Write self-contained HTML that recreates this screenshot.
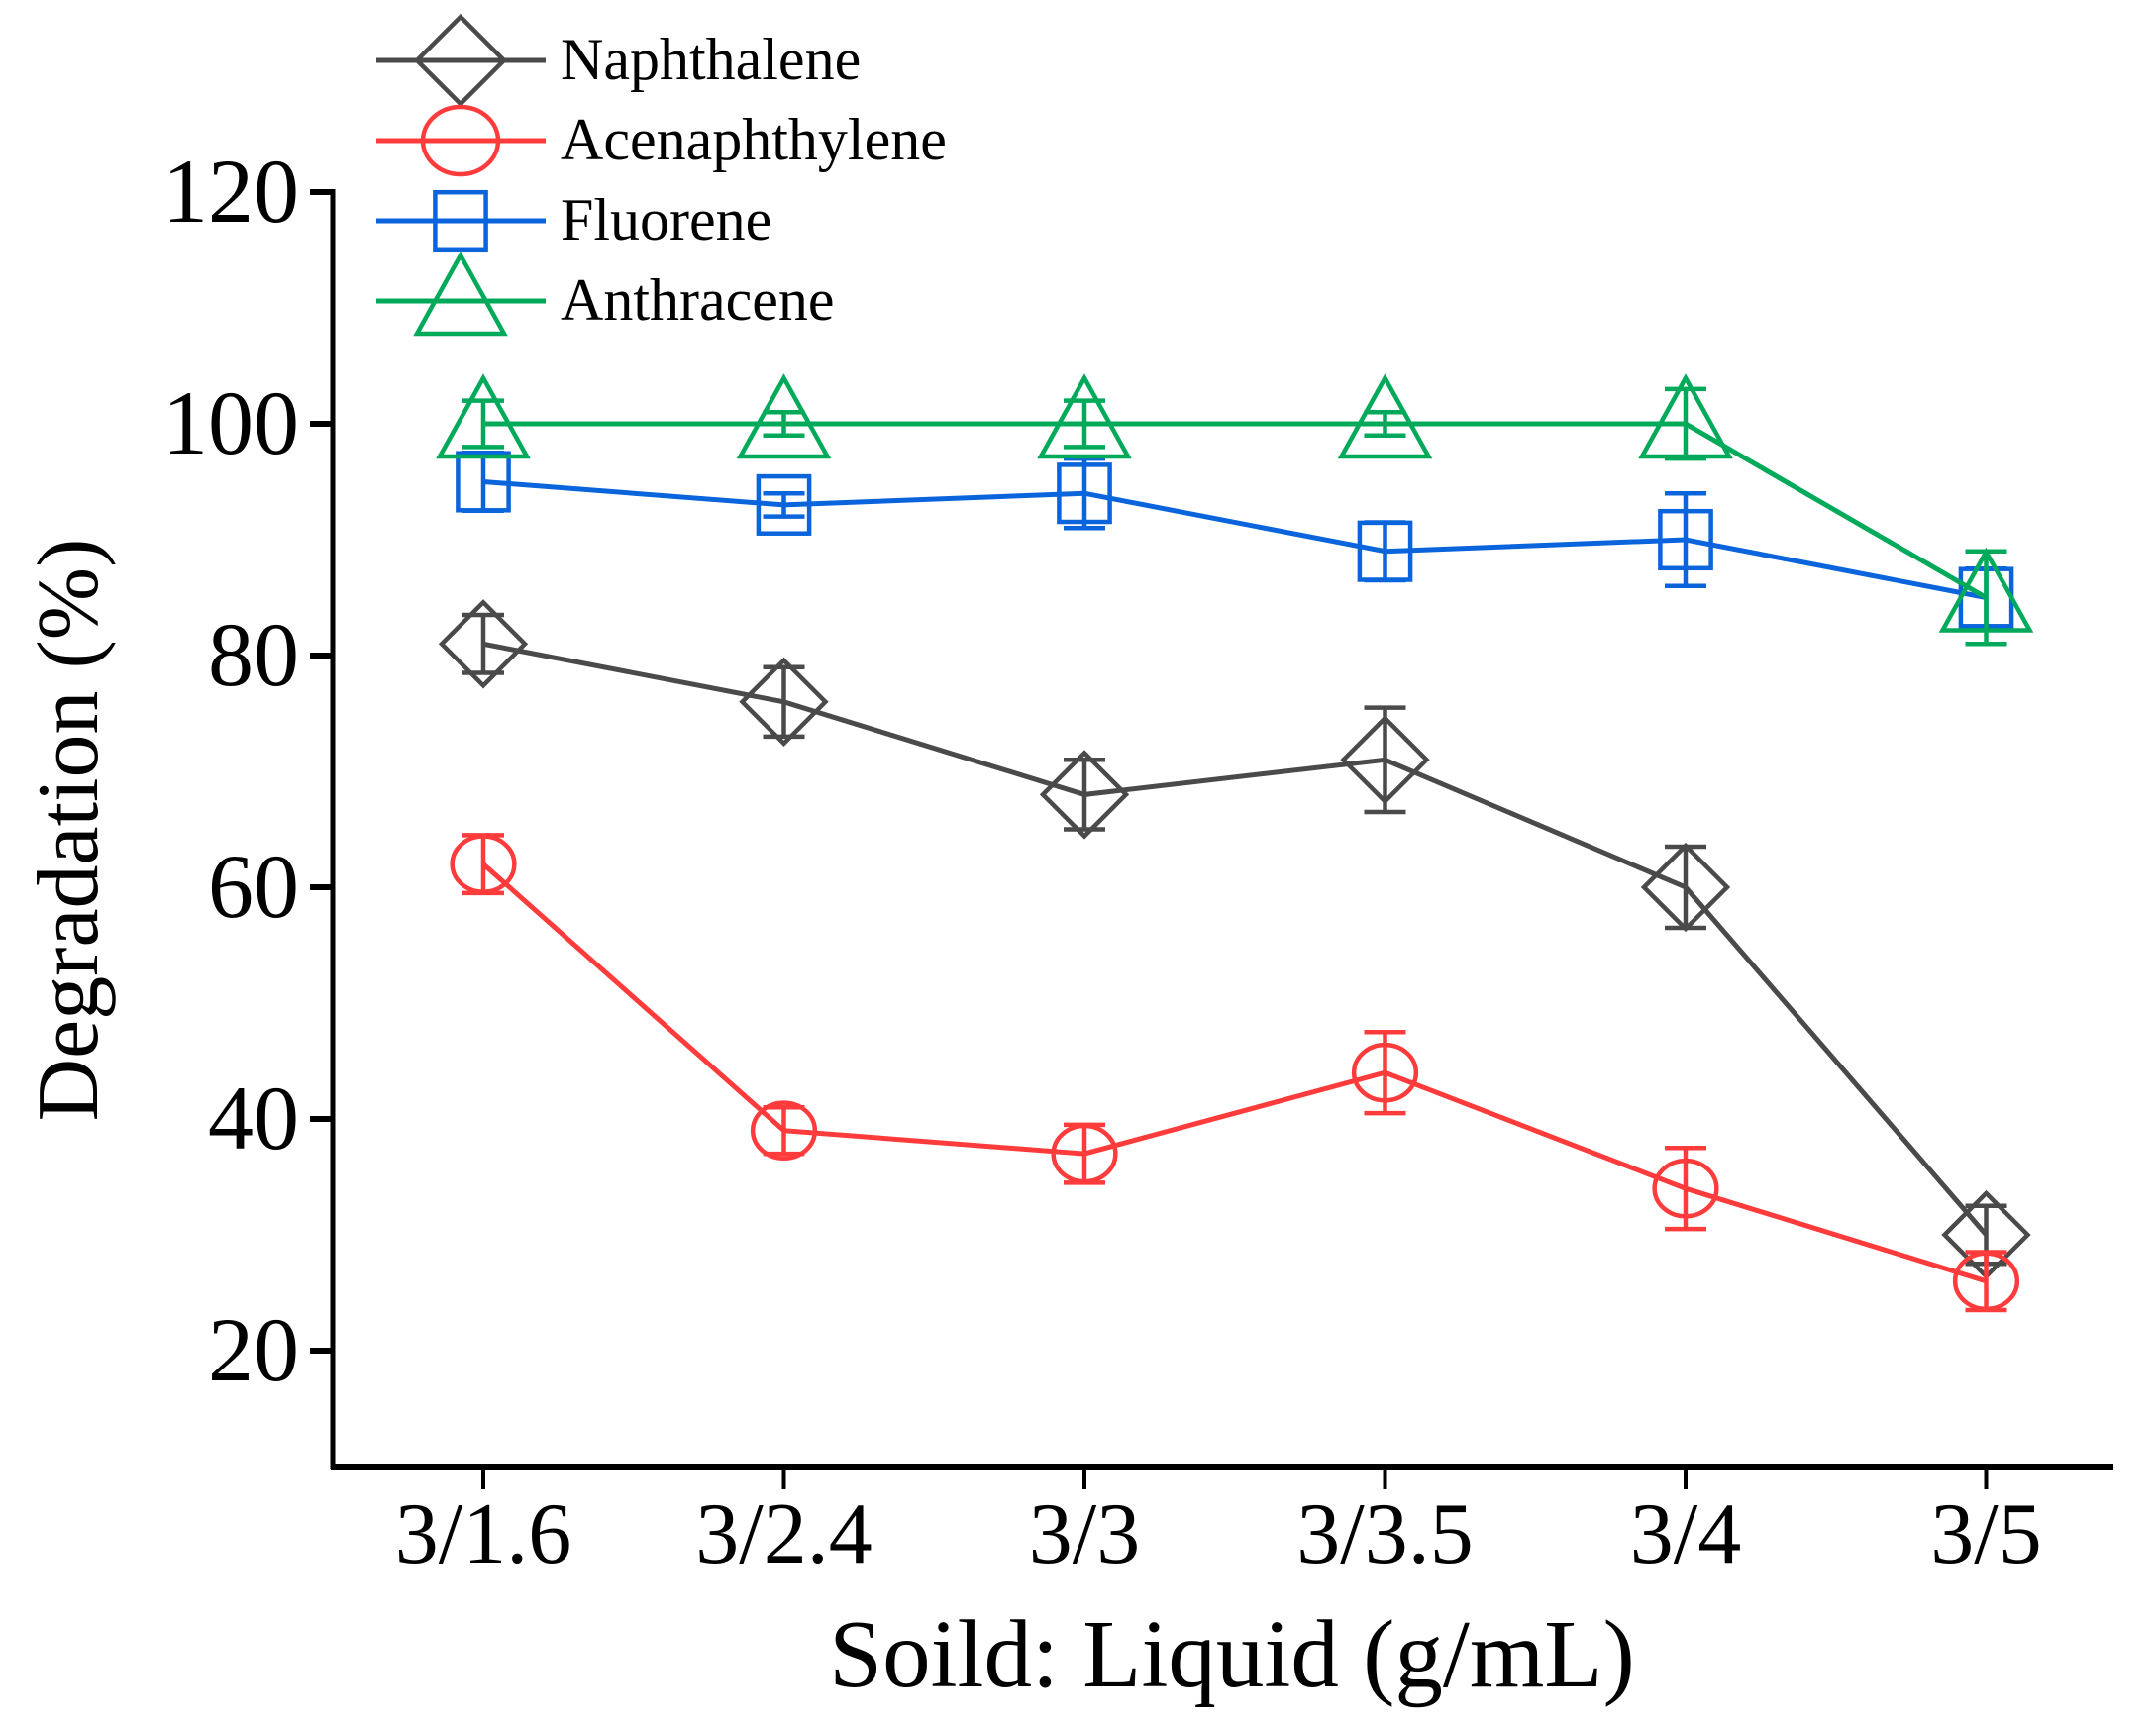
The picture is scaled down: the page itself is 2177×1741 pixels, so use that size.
<!DOCTYPE html>
<html><head><meta charset="utf-8"><style>
html,body{margin:0;padding:0;background:#fff;}
svg{display:block;font-family:"Liberation Serif",serif;}
</style></head><body>
<svg id="chart" width="2177" height="1741" viewBox="0 0 2177 1741" xmlns="http://www.w3.org/2000/svg">
<g id="axes"></g>
<g id="plot"></g>
<g id="legend"></g>
</svg>
<script>
const categories = ["3/1.6","3/2.4","3/3","3/3.5","3/4","3/5"];
const yTicks = [20,40,60,80,100,120];
const naphVals = [81,76,68,71,60,30];
const naphErr = [2.5,3,3,4.5,3.5,2.5];
const acenVals = [62,39,37,44,34,26];
const acenErr = [2.5,2,2.5,3.5,3.5,2.5];
const fluoVals = [95,93,94,89,90,85];
const fluoErr = [2.5,1,3,2.5,4,2.5];
const anthVals = [100,100,100,100,100,85];
const anthErr = [2,1,2,1,3,4];
const seriesNames = ["Naphthalene","Acenaphthylene","Fluorene","Anthracene"];

const NS="http://www.w3.org/2000/svg";
const X0=488, DX=303.5;
function xs(i){return X0+i*DX;}
function ys(v){return 428+(100-v)*11.7;}
function mk(tag,attrs,parent){const e=document.createElementNS(NS,tag);for(const k in attrs)e.setAttribute(k,attrs[k]);parent.appendChild(e);return e;}
const axes=document.getElementById('axes'),plot=document.getElementById('plot'),legend=document.getElementById('legend');

let a=mk('line',{x1:336,y1:ys(120)-3,x2:336,y2:1483,stroke:'#000','stroke-width':5},axes);

a=mk('line',{x1:334,y1:1481,x2:2134,y2:1481,stroke:'#000','stroke-width':6},axes);

yTicks.forEach(v=>{
  const t=mk('line',{x1:313,y1:ys(v),x2:336,y2:ys(v),stroke:'#000','stroke-width':6},axes);
  
  const l=mk('text',{x:302,y:ys(v)+30,'text-anchor':'end','font-size':92},axes);l.textContent=v;
  
});
categories.forEach((c,i)=>{
  const t=mk('line',{x1:xs(i),y1:1483,x2:xs(i),y2:1504,stroke:'#000','stroke-width':4},axes);
  
  const l=mk('text',{x:xs(i),y:1578,'text-anchor':'middle','font-size':88},axes);l.textContent=c;
  
});
let tt=mk('text',{x:1244,y:1703,'text-anchor':'middle','font-size':97},axes);tt.textContent="Soild: Liquid (g/mL)";

tt=mk('text',{x:0,y:0,'text-anchor':'middle','font-size':88,transform:'translate(98,838) rotate(-90)'},axes);tt.textContent="Degradation (%)";


function marker(shape,cx,cy,r,color,parent){
  let e;
  if(shape==='diamond') e=mk('polygon',{points:`${cx},${cy-r} ${cx+r},${cy} ${cx},${cy+r} ${cx-r},${cy}`},parent);
  else if(shape==='circle') e=mk('ellipse',{cx:cx,cy:cy,rx:r*0.95,ry:r*0.85},parent);
  else if(shape==='square') e=mk('rect',{x:cx-r*0.8,y:cy-r*0.9,width:r*1.6,height:r*1.8},parent);
  else e=mk('polygon',{points:`${cx},${cy-r*1.05} ${cx+r},${cy+r*0.75} ${cx-r},${cy+r*0.75}`},parent);
  e.setAttribute('fill','none');e.setAttribute('stroke',color);e.setAttribute('stroke-width',4.5);
  return e;
}
const series=[
 {vals:naphVals,err:naphErr,color:'#4a4a4a',shape:'diamond',name:'naphthalene',r:42},
 {vals:acenVals,err:acenErr,color:'#ff3b3b',shape:'circle',name:'acenaphthylene',r:33},
 {vals:fluoVals,err:fluoErr,color:'#0a64dc',shape:'square',name:'fluorene',r:32},
 {vals:anthVals,err:anthErr,color:'#00aa5a',shape:'triangle',name:'anthracene',r:44}
];
series.forEach(s=>{
  const g=mk('g',{},plot);
  
  const pl=mk('polyline',{points:s.vals.map((v,i)=>xs(i)+','+ys(v)).join(' '),fill:'none',stroke:s.color,'stroke-width':5},g);
  
  s.vals.forEach((v,i)=>{
    const x=xs(i),yt=ys(v+s.err[i]),yb=ys(v-s.err[i]);
    const eb=mk('path',{d:`M${x},${yt}V${yb}M${x-21},${yt}H${x+21}M${x-21},${yb}H${x+21}`,stroke:s.color,'stroke-width':4.5,fill:'none'},g);
    
    const m=marker(s.shape,x,ys(v),s.r,s.color,g);
    
  });
});
seriesNames.forEach((n,i)=>{
  const s=series[i],y=61+i*81;
  const g=mk('g',{},legend);
  
  mk('line',{x1:380,y1:y,x2:551,y2:y,stroke:s.color,'stroke-width':5},g);
  marker(s.shape,465,y,s.shape==='circle'?40:(s.shape==='square'?32:44),s.color,g);
  const t=mk('text',{x:566,y:y+19,'font-size':60},g);t.textContent=n;
});
</script>
</body></html>
